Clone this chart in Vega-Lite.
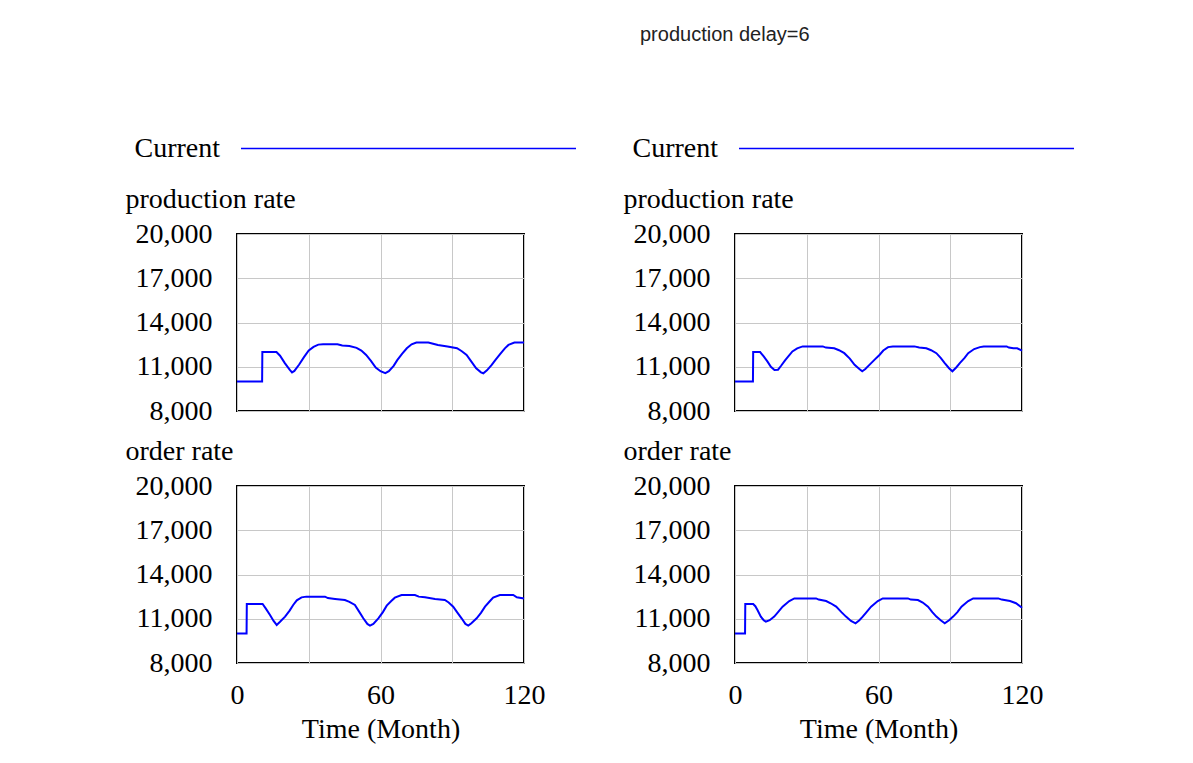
{
  "$schema": "https://vega.github.io/schema/vega-lite/v6.json",
  "autosize": {"type": "none"},
  "padding": {"left": 237, "top": 234, "right": 956, "bottom": 529},
  "background": "#ffffff",
  "title": {
    "text": "production delay=6",
    "anchor": "start",
    "frame": "group",
    "dx": 403,
    "offset": -82,
    "baseline": "alphabetic",
    "font": "Liberation Sans",
    "fontSize": 20,
    "fontWeight": "normal",
    "color": "#222222"
  },
  "datasets": {
    "prodA": [
      {"month": 0, "rate": 10000}, {"month": 10.5, "rate": 10000}, {"month": 10.6, "rate": 12000},
      {"month": 16.5, "rate": 12000}, {"month": 18, "rate": 11750}, {"month": 20, "rate": 11250},
      {"month": 22, "rate": 10800}, {"month": 23, "rate": 10620}, {"month": 24, "rate": 10720},
      {"month": 26, "rate": 11150}, {"month": 28, "rate": 11650}, {"month": 30, "rate": 12100},
      {"month": 32, "rate": 12350}, {"month": 34, "rate": 12500}, {"month": 36, "rate": 12520},
      {"month": 42, "rate": 12520}, {"month": 44, "rate": 12440}, {"month": 47, "rate": 12400},
      {"month": 50, "rate": 12280}, {"month": 52, "rate": 12100}, {"month": 54, "rate": 11800},
      {"month": 56, "rate": 11400}, {"month": 58, "rate": 10950}, {"month": 60, "rate": 10700},
      {"month": 62, "rate": 10560}, {"month": 63.5, "rate": 10700}, {"month": 65.5, "rate": 11060},
      {"month": 67, "rate": 11450}, {"month": 69, "rate": 11870}, {"month": 71, "rate": 12250},
      {"month": 73, "rate": 12520}, {"month": 75, "rate": 12640}, {"month": 80, "rate": 12640},
      {"month": 82, "rate": 12560}, {"month": 84, "rate": 12480}, {"month": 88, "rate": 12380},
      {"month": 92, "rate": 12260}, {"month": 94, "rate": 12050}, {"month": 96, "rate": 11800},
      {"month": 98, "rate": 11350}, {"month": 100, "rate": 10900}, {"month": 102, "rate": 10620},
      {"month": 103, "rate": 10560}, {"month": 104.5, "rate": 10760}, {"month": 106.5, "rate": 11130},
      {"month": 108, "rate": 11450}, {"month": 110, "rate": 11850}, {"month": 112, "rate": 12250},
      {"month": 113.5, "rate": 12480}, {"month": 116, "rate": 12640}, {"month": 120, "rate": 12640}
    ],
    "prodB": [
      {"month": 0, "rate": 10000}, {"month": 7.5, "rate": 10000}, {"month": 7.6, "rate": 12000},
      {"month": 10.5, "rate": 12000}, {"month": 12, "rate": 11700}, {"month": 13.6, "rate": 11350},
      {"month": 15, "rate": 11000}, {"month": 16.5, "rate": 10780}, {"month": 18, "rate": 10800},
      {"month": 19.2, "rate": 11050}, {"month": 21, "rate": 11450}, {"month": 24, "rate": 12040},
      {"month": 26, "rate": 12250}, {"month": 28.3, "rate": 12380}, {"month": 36.7, "rate": 12380},
      {"month": 38, "rate": 12300}, {"month": 41.5, "rate": 12250}, {"month": 43.5, "rate": 12120},
      {"month": 45.7, "rate": 11920}, {"month": 48, "rate": 11550}, {"month": 50, "rate": 11130},
      {"month": 52, "rate": 10850}, {"month": 53.2, "rate": 10690}, {"month": 54.5, "rate": 10850},
      {"month": 56.2, "rate": 11130}, {"month": 58.5, "rate": 11500}, {"month": 60.4, "rate": 11800},
      {"month": 62, "rate": 12100}, {"month": 64, "rate": 12330}, {"month": 66, "rate": 12380},
      {"month": 75, "rate": 12380}, {"month": 77, "rate": 12300}, {"month": 80, "rate": 12250},
      {"month": 82, "rate": 12120}, {"month": 84.2, "rate": 11920}, {"month": 86, "rate": 11600},
      {"month": 87.7, "rate": 11250}, {"month": 89.5, "rate": 10900}, {"month": 90.9, "rate": 10690},
      {"month": 92.5, "rate": 10950}, {"month": 94, "rate": 11250}, {"month": 96, "rate": 11600},
      {"month": 97.5, "rate": 11920}, {"month": 100, "rate": 12200}, {"month": 102.4, "rate": 12330},
      {"month": 104, "rate": 12380}, {"month": 113.6, "rate": 12380}, {"month": 114.5, "rate": 12300},
      {"month": 116.4, "rate": 12250}, {"month": 118, "rate": 12250}, {"month": 120, "rate": 12090}
    ],
    "orderA": [
      {"month": 0, "rate": 10000}, {"month": 4, "rate": 10000}, {"month": 4.1, "rate": 12000},
      {"month": 10.7, "rate": 12000}, {"month": 12, "rate": 11700}, {"month": 13.8, "rate": 11260},
      {"month": 15.3, "rate": 10850}, {"month": 16.6, "rate": 10580}, {"month": 18, "rate": 10800},
      {"month": 20.1, "rate": 11145}, {"month": 22, "rate": 11550}, {"month": 23.5, "rate": 11935},
      {"month": 25, "rate": 12250}, {"month": 27, "rate": 12450}, {"month": 29, "rate": 12500},
      {"month": 36.8, "rate": 12500}, {"month": 38, "rate": 12400}, {"month": 41, "rate": 12340},
      {"month": 45.1, "rate": 12270}, {"month": 47, "rate": 12150}, {"month": 49.3, "rate": 11935},
      {"month": 51, "rate": 11500}, {"month": 52.8, "rate": 11030}, {"month": 54.5, "rate": 10650},
      {"month": 55.6, "rate": 10540}, {"month": 57, "rate": 10650}, {"month": 59.1, "rate": 11030},
      {"month": 61, "rate": 11450}, {"month": 62.6, "rate": 11890}, {"month": 64.5, "rate": 12200},
      {"month": 66, "rate": 12430}, {"month": 68.8, "rate": 12610}, {"month": 74.4, "rate": 12610},
      {"month": 76, "rate": 12500}, {"month": 78.6, "rate": 12450}, {"month": 82.8, "rate": 12340},
      {"month": 86.9, "rate": 12270}, {"month": 88.5, "rate": 12100}, {"month": 90.4, "rate": 11820},
      {"month": 92, "rate": 11450}, {"month": 93.9, "rate": 11030}, {"month": 95.5, "rate": 10650},
      {"month": 96.7, "rate": 10540}, {"month": 98, "rate": 10700}, {"month": 100.2, "rate": 11030},
      {"month": 102, "rate": 11400}, {"month": 103.7, "rate": 11820}, {"month": 105.5, "rate": 12150},
      {"month": 107.1, "rate": 12430}, {"month": 109.9, "rate": 12610}, {"month": 115.5, "rate": 12610},
      {"month": 117, "rate": 12450}, {"month": 120, "rate": 12380}
    ],
    "orderB": [
      {"month": 0, "rate": 10000}, {"month": 4.2, "rate": 10000}, {"month": 4.3, "rate": 12000},
      {"month": 7.6, "rate": 12000}, {"month": 8.5, "rate": 11850}, {"month": 9.4, "rate": 11596},
      {"month": 10.8, "rate": 11145}, {"month": 12, "rate": 10900}, {"month": 12.9, "rate": 10805},
      {"month": 14.5, "rate": 10900}, {"month": 16.4, "rate": 11145}, {"month": 18, "rate": 11450},
      {"month": 19.9, "rate": 11820}, {"month": 22.7, "rate": 12200}, {"month": 24.8, "rate": 12380},
      {"month": 33.9, "rate": 12380}, {"month": 35, "rate": 12300}, {"month": 38.1, "rate": 12200},
      {"month": 40, "rate": 12050}, {"month": 42.3, "rate": 11820}, {"month": 44.5, "rate": 11450},
      {"month": 46.4, "rate": 11145}, {"month": 48.5, "rate": 10850}, {"month": 50.4, "rate": 10690},
      {"month": 52, "rate": 10900}, {"month": 53.4, "rate": 11145}, {"month": 55, "rate": 11450},
      {"month": 56.9, "rate": 11820}, {"month": 59.7, "rate": 12200}, {"month": 61.8, "rate": 12380},
      {"month": 72.3, "rate": 12380}, {"month": 73.5, "rate": 12300}, {"month": 76.5, "rate": 12270},
      {"month": 78.5, "rate": 12100}, {"month": 80.7, "rate": 11820}, {"month": 82.5, "rate": 11450},
      {"month": 84.2, "rate": 11145}, {"month": 86, "rate": 10900}, {"month": 87.7, "rate": 10690},
      {"month": 89.5, "rate": 10900}, {"month": 91.2, "rate": 11145}, {"month": 93, "rate": 11450},
      {"month": 94.7, "rate": 11820}, {"month": 97.5, "rate": 12200}, {"month": 99.6, "rate": 12380},
      {"month": 110.1, "rate": 12380}, {"month": 111.5, "rate": 12300}, {"month": 115, "rate": 12200},
      {"month": 117.5, "rate": 12050}, {"month": 120, "rate": 11750}
    ]
  },
  "columns": 2,
  "bounds": "flush",
  "spacing": {"row": 75, "column": 211},
  "resolve": {"scale": {"color": "independent"}, "legend": {"color": "independent"}},
  "concat": [
    {
      "width": 287, "height": 177,
      "data": {"name": "prodA"},
      "mark": {"type": "line", "strokeWidth": 2},
      "encoding": {
        "x": {"field": "month", "type": "quantitative", "scale": {"domain": [0, 120], "nice": false},
              "axis": {"values": [0, 30, 60, 90, 120], "labels": false, "title": null}},
        "y": {"field": "rate", "type": "quantitative", "scale": {"domain": [8000, 20000], "nice": false, "zero": false},
              "axis": {"values": [8000, 11000, 14000, 17000, 20000], "format": ",.0f", "title": "production rate"}},
        "color": {"datum": "Current", "scale": {"range": ["#0000ff"]},
                  "legend": {"orient": "none", "legendX": 3, "legendY": -254, "title": null,
                             "symbolType": "stroke", "symbolSize": 112225, "symbolStrokeWidth": 1.5,
                             "labelAlign": "right", "labelOffset": -357, "labelBaseline": "middle",
                             "labelFont": "Liberation Serif", "labelFontSize": 28, "labelColor": "#000000", "labelLimit": 0}}
      }
    },
    {
      "width": 287, "height": 177,
      "data": {"name": "prodB"},
      "mark": {"type": "line", "strokeWidth": 2},
      "encoding": {
        "x": {"field": "month", "type": "quantitative", "scale": {"domain": [0, 120], "nice": false},
              "axis": {"values": [0, 30, 60, 90, 120], "labels": false, "title": null}},
        "y": {"field": "rate", "type": "quantitative", "scale": {"domain": [8000, 20000], "nice": false, "zero": false},
              "axis": {"values": [8000, 11000, 14000, 17000, 20000], "format": ",.0f", "title": "production rate"}},
        "color": {"datum": "Current", "scale": {"range": ["#0000ff"]},
                  "legend": {"orient": "none", "legendX": 3, "legendY": -254, "title": null,
                             "symbolType": "stroke", "symbolSize": 112225, "symbolStrokeWidth": 1.5,
                             "labelAlign": "right", "labelOffset": -357, "labelBaseline": "middle",
                             "labelFont": "Liberation Serif", "labelFontSize": 28, "labelColor": "#000000", "labelLimit": 0}}
      }
    },
    {
      "width": 287, "height": 177,
      "data": {"name": "orderA"},
      "mark": {"type": "line", "strokeWidth": 2, "color": "#0000ff"},
      "encoding": {
        "x": {"field": "month", "type": "quantitative", "scale": {"domain": [0, 120], "nice": false},
              "axis": {"values": [0, 30, 60, 90, 120], "labelExpr": "datum.value % 60 === 0 ? datum.label : ''", "title": "Time (Month)"}},
        "y": {"field": "rate", "type": "quantitative", "scale": {"domain": [8000, 20000], "nice": false, "zero": false},
              "axis": {"values": [8000, 11000, 14000, 17000, 20000], "format": ",.0f", "title": "order rate"}}
      }
    },
    {
      "width": 287, "height": 177,
      "data": {"name": "orderB"},
      "mark": {"type": "line", "strokeWidth": 2, "color": "#0000ff"},
      "encoding": {
        "x": {"field": "month", "type": "quantitative", "scale": {"domain": [0, 120], "nice": false},
              "axis": {"values": [0, 30, 60, 90, 120], "labelExpr": "datum.value % 60 === 0 ? datum.label : ''", "title": "Time (Month)"}},
        "y": {"field": "rate", "type": "quantitative", "scale": {"domain": [8000, 20000], "nice": false, "zero": false},
              "axis": {"values": [8000, 11000, 14000, 17000, 20000], "format": ",.0f", "title": "order rate"}}
      }
    }
  ],
  "config": {
    "view": {"stroke": "#000000", "strokeWidth": 2},
    "axis": {
      "ticks": false, "tickSize": 0, "domain": false, "labelFlush": false, "labelOverlap": false,
      "grid": true, "gridColor": "#c8c8c8", "gridWidth": 1,
      "labelFont": "Liberation Serif", "labelFontSize": 28, "labelColor": "#000000",
      "titleFont": "Liberation Serif", "titleFontSize": 28, "titleColor": "#000000", "titleFontWeight": "normal"
    },
    "axisY": {
      "labelPadding": 25, "labelBaseline": "middle",
      "titleAngle": 0, "titleAlign": "left", "titleBaseline": "alphabetic", "titleX": -112, "titleY": -27
    },
    "axisX": {
      "labelPadding": 40, "labelBaseline": "alphabetic", "titleBaseline": "alphabetic", "titleY": 74
    }
  }
}
